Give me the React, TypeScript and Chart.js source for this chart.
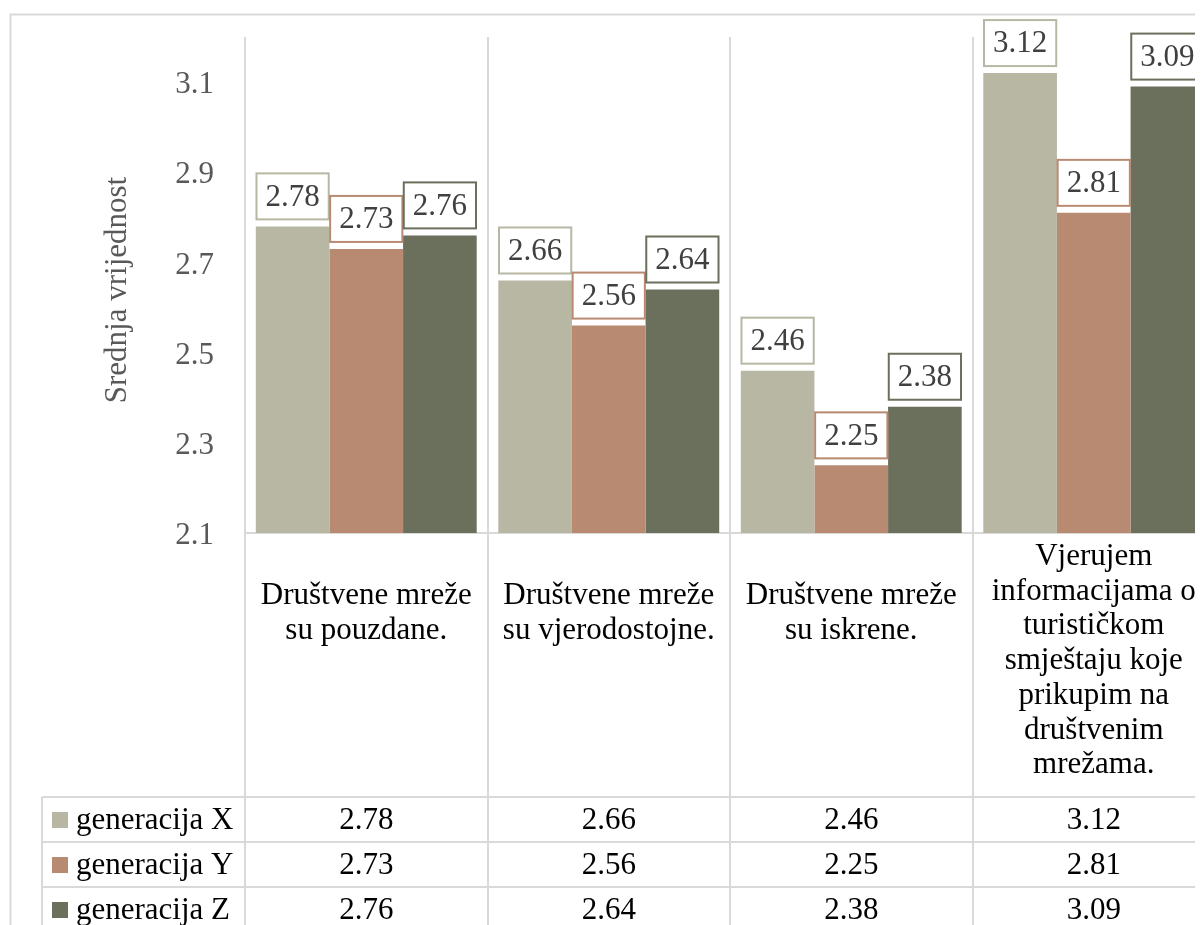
import React, { useEffect, useRef } from "react";
import { Chart, registerables } from "chart.js";

Chart.register(...registerables);

// ---------- data ----------
const categories: string[][] = [
  ["Društvene mreže", "su pouzdane."],
  ["Društvene mreže", "su vjerodostojne."],
  ["Društvene mreže", "su iskrene."],
  ["Vjerujem", "informacijama o", "turističkom", "smještaju koje", "prikupim na", "društvenim", "mrežama."],
];
const seriesNames = ["generacija X", "generacija Y", "generacija Z"];
const genX = [2.78, 2.66, 2.46, 3.12];
const genY = [2.73, 2.56, 2.25, 2.81];
const genZ = [2.76, 2.64, 2.38, 3.09];
const seriesValues = [genX, genY, genZ];
const seriesColors = ["#b7b7a4", "#b98a72", "#6b705c"];
const yTicks = [2.1, 2.3, 2.5, 2.7, 2.9, 3.1];
const yMin = 2.1;
const yMax = 3.2;
const axisTitle = "Srednja vrijednost";

// ---------- styling ----------
const W = 1240;
const H = 940;
const FAMILY = "'Liberation Serif', 'Times New Roman', serif";
const FS = 31;
const GRID = "#d9d9d9";
const LABEL_AREA_H = 264;
const ROW_H = 45;
const TABLE_LEFT = 34;

const excelPlugin = {
  id: "excelTable",
  beforeDraw(chart: any) {
    const ctx = chart.ctx;
    ctx.save();
    ctx.fillStyle = "#ffffff";
    ctx.fillRect(0, 0, chart.width, chart.height);
    ctx.strokeStyle = GRID;
    ctx.lineWidth = 2;
    ctx.strokeRect(2.5, 6.5, chart.width + 20, chart.height + 20);
    ctx.restore();
  },
  afterDatasetsDraw(chart: any) {
    const ctx = chart.ctx;
    ctx.save();
    ctx.font = `${FS}px ${FAMILY}`;
    ctx.textAlign = "center";
    ctx.textBaseline = "middle";
    chart.data.datasets.forEach((ds: any, d: number) => {
      const meta = chart.getDatasetMeta(d);
      meta.data.forEach((el: any, i: number) => {
        const txt = Number(ds.data[i]).toFixed(2);
        const tw = ctx.measureText(txt).width;
        const bw = tw + 18;
        const bh = 46;
        const bottom = el.y - 7;
        const top = bottom - bh;
        ctx.fillStyle = "#ffffff";
        ctx.fillRect(el.x - bw / 2, top, bw, bh);
        ctx.strokeStyle = seriesColors[d];
        ctx.lineWidth = 2;
        ctx.strokeRect(el.x - bw / 2, top, bw, bh);
        ctx.fillStyle = "#404040";
        ctx.fillText(txt, el.x, top + bh / 2 + 1);
      });
    });
    ctx.restore();
  },
  afterDraw(chart: any) {
    const { ctx, chartArea } = chart;
    const xs = chart.scales.x;
    const n = categories.length;
    const catW = (chartArea.right - chartArea.left) / n;
    const areaTop = chartArea.bottom;
    const tableTop = areaTop + LABEL_AREA_H;
    const line = (x1: number, y1: number, x2: number, y2: number) => {
      ctx.beginPath();
      ctx.moveTo(x1, y1);
      ctx.lineTo(x2, y2);
      ctx.stroke();
    };
    ctx.save();
    ctx.strokeStyle = GRID;
    ctx.lineWidth = 2;
    for (let i = 0; i <= n; i++) {
      const gx = Math.round(xs.getPixelForValue(0) - catW / 2 + i * catW);
      line(gx, areaTop, gx, chart.height);
    }
    for (let r = 0; r <= seriesNames.length; r++) {
      const y = tableTop + r * ROW_H;
      line(TABLE_LEFT, y, chart.width, y);
    }
    line(TABLE_LEFT, tableTop, TABLE_LEFT, chart.height);

    // category labels
    ctx.font = `${FS}px ${FAMILY}`;
    ctx.fillStyle = "#000000";
    ctx.textAlign = "center";
    ctx.textBaseline = "middle";
    const lh = 34.7;
    categories.forEach((lines, i) => {
      const cx = xs.getPixelForValue(i);
      const center = lines.length > 3 ? (areaTop + tableTop) / 2 - 4 : areaTop + 80.5;
      const start = center - ((lines.length - 1) * lh) / 2;
      lines.forEach((t, k) => ctx.fillText(t, cx, start + k * lh));
    });

    // table rows
    seriesNames.forEach((name, r) => {
      const rowTop = tableTop + r * ROW_H;
      const cy = rowTop + ROW_H / 2 + 1;
      ctx.fillStyle = seriesColors[r];
      ctx.fillRect(TABLE_LEFT + 10, rowTop + 15, 16, 16);
      ctx.fillStyle = "#000000";
      ctx.textAlign = "left";
      ctx.fillText(name, TABLE_LEFT + 34, cy);
      ctx.textAlign = "center";
      seriesValues[r].forEach((v, i) => {
        ctx.fillText(v.toFixed(2), xs.getPixelForValue(i), cy);
      });
    });

    // y axis title
    ctx.save();
    ctx.translate(110, (chartArea.top + chartArea.bottom) / 2 + 5);
    ctx.rotate(-Math.PI / 2);
    ctx.fillStyle = "#595959";
    ctx.textAlign = "center";
    ctx.fillText(axisTitle, 0, 0);
    ctx.restore();
    ctx.restore();
  },
};

export default function App() {
  const ref = useRef<HTMLCanvasElement | null>(null);
  useEffect(() => {
    if (!ref.current) return;
    document.body.style.overflow = "hidden";
    const chart = new Chart(ref.current, {
      type: "bar",
      data: {
        labels: categories.map((c) => c.join(" ")),
        datasets: seriesNames.map((name, i) => ({
          label: name,
          data: seriesValues[i],
          backgroundColor: seriesColors[i],
          borderWidth: 0,
          categoryPercentage: 0.911,
          barPercentage: 1,
        })),
      },
      options: {
        responsive: false,
        animation: false,
        devicePixelRatio: 1,
        layout: { padding: { left: 0, top: 29, right: 33, bottom: 415 } },
        plugins: {
          legend: { display: false },
          tooltip: { enabled: false },
        },
        scales: {
          x: {
            offset: true,
            grid: { display: true, offset: true, color: GRID, lineWidth: 2, drawTicks: false },
            border: { display: true, color: GRID, width: 2 },
            ticks: { display: false },
            afterFit: (s: any) => {
              s.height = 0;
            },
          },
          y: {
            min: yMin,
            max: yMax,
            grid: { display: false, drawTicks: false },
            border: { display: false },
            afterBuildTicks: (s: any) => {
              s.ticks = yTicks.map((v) => ({ value: v }));
            },
            ticks: {
              padding: 31,
              labelOffset: 3,
              color: "#595959",
              font: { family: FAMILY, size: FS },
              callback: (v: any) => Number(v).toFixed(1),
            },
            afterFit: (s: any) => {
              s.width = 237;
              s.paddingTop = 0;
              s.paddingBottom = 0;
            },
          },
        },
      },
      plugins: [excelPlugin],
    });
    return () => chart.destroy();
  }, []);
  return (
    <div style={{ width: 1195, height: 917, overflow: "hidden", position: "relative" }}>
      <canvas ref={ref} width={W} height={H} style={{ display: "block", width: W, height: H }} />
    </div>
  );
}
